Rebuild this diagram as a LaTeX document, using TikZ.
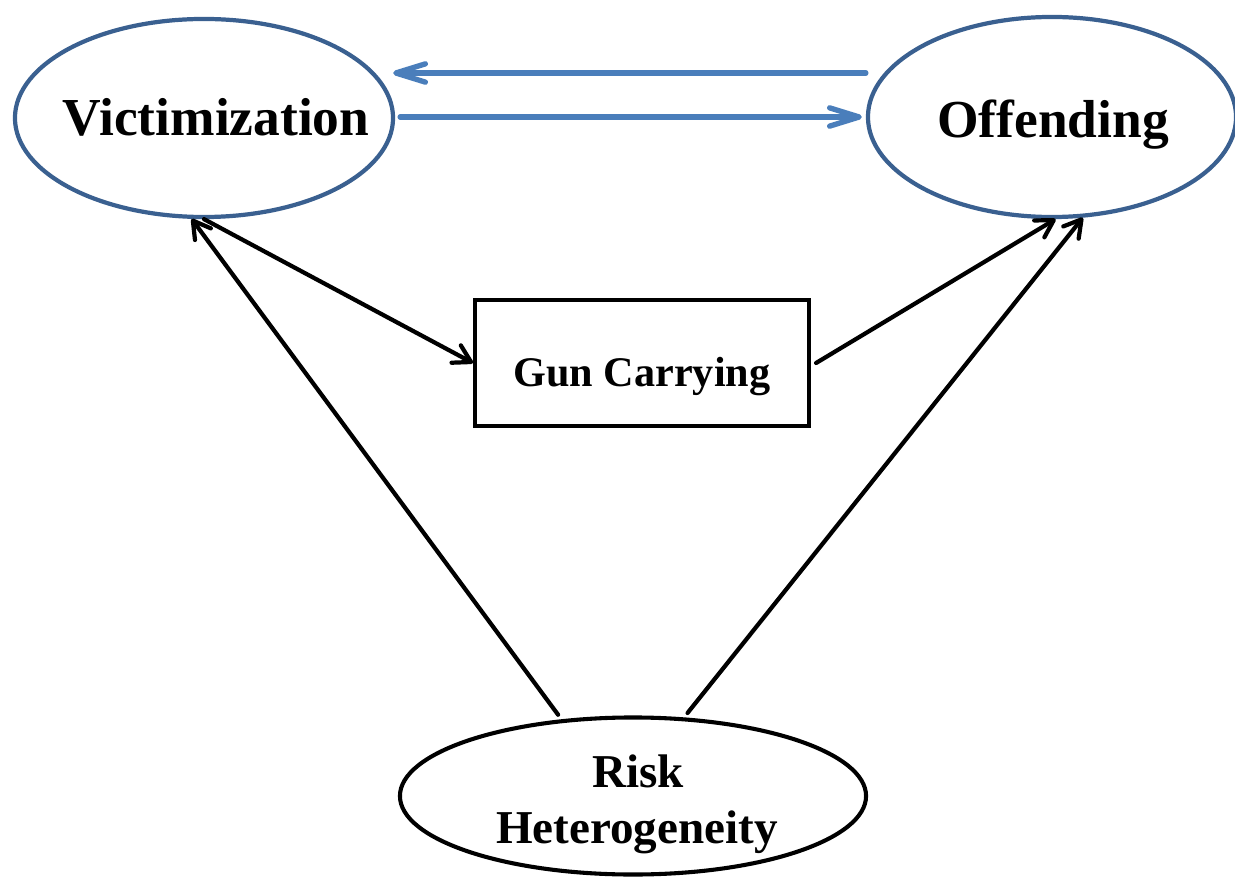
\documentclass[tikz,border=0pt]{standalone}
\usepackage{fontspec}
\setmainfont{Liberation Serif}
\usetikzlibrary{shapes.geometric,arrows.meta,calc}
\definecolor{ellblue}{HTML}{3A6090}
\definecolor{arrblue}{HTML}{4A7EBB}
\begin{document}
\begin{tikzpicture}[x=0.025cm,y=-0.025cm,
  ell/.style={ellipse,draw,line width=3pt,inner sep=0pt},
  lbl/.style={anchor=base,inner sep=0pt,font=\bfseries},
  barrow/.style={draw=arrblue,line width=3.8pt,line cap=round,-{Straight Barb[length=21pt,width=13pt,round]}},
  karrow/.style={draw=black,line width=3pt,line cap=round,-{Straight Barb[length=12pt,width=14pt,round]}}]
\useasboundingbox (0,0) rectangle (1235,878);
\node[ell,draw=ellblue,minimum width=9.45cm,minimum height=4.95cm] (vic) at (204,118) {};
\node[ell,draw=ellblue,minimum width=9.2cm,minimum height=5.0cm] (off) at (1052,117) {};
\node[draw,line width=2.9pt,minimum width=8.35cm,minimum height=3.15cm,inner sep=0pt] (gun) at (642,363) {};
\node[ell,draw=black,line width=2.9pt,minimum width=11.65cm,minimum height=3.925cm] (risk) at (633,796) {};
\node[lbl,font=\bfseries\fontsize{38}{40}\selectfont] (vict) at (216,136) {Victimization};
\node[lbl,font=\bfseries\fontsize{38}{40}\selectfont] (offt) at (1053,138) {Offending};
\node[lbl,font=\bfseries\fontsize{30}{32}\selectfont] (gunt) at (642,387) {Gun Carrying};
\node[lbl,font=\bfseries\fontsize{33.5}{36}\selectfont] (riskt1) at (638,787) {Risk};
\node[lbl,font=\bfseries\fontsize{33.5}{36}\selectfont] (riskt2) at (637,843) {Heterogeneity};
\draw[barrow] ($(off.west)+(0,-44)$) -- ($(vic.east)+(-2,-45)$);
\draw[barrow] ($(vic.east)+(5,-1)$) -- ($(off.west)+(-4,0)$);
\draw[karrow] (vic.south) -- (gun.west);
\draw[karrow] ($(gun.east)+(5,0)$) -- (off.-88);
\draw[karrow,shorten <=4pt] (risk.133) -- (vic.263);
\draw[karrow,shorten <=4pt] (risk.57) -- (off.-73);
\end{tikzpicture}
\end{document}
